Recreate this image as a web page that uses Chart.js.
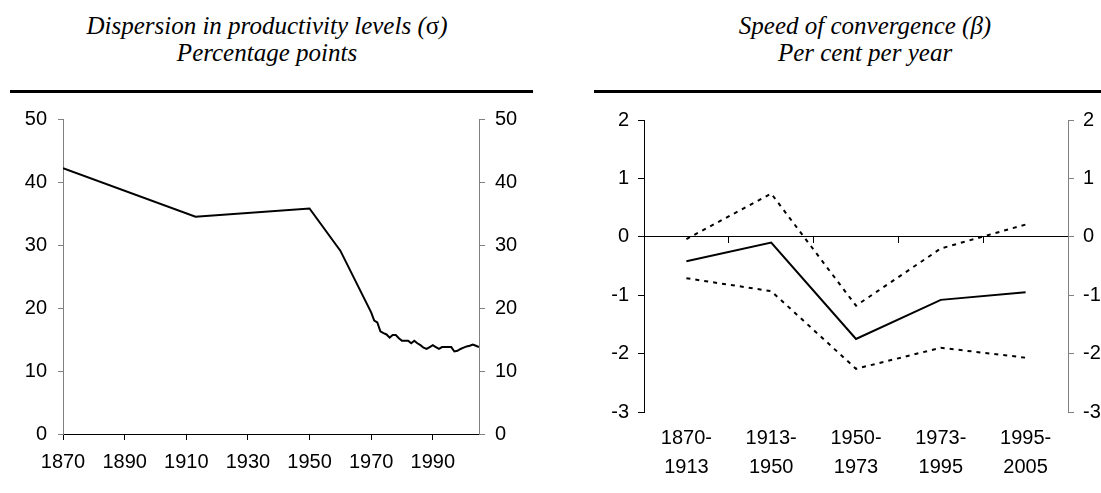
<!DOCTYPE html>
<html>
<head>
<meta charset="utf-8">
<script src="https://cdn.jsdelivr.net/npm/chart.js@4.4.1/dist/chart.umd.min.js"></script>
<style>
  html, body { margin: 0; padding: 0; width: 1101px; height: 493px; overflow: hidden; background: #fff; }
  .title {
    position: absolute; top: 12px; width: 400px;
    font-family: 'Liberation Serif', 'Times New Roman', serif;
    font-style: italic; font-size: 25px; line-height: 27px;
    text-align: center; color: #000; white-space: nowrap;
  }
  .rule { position: absolute; top: 90px; height: 3px; background: #000; }
  .box { position: absolute; top: 0; height: 493px; }
</style>
</head>
<body>
<div class="title" style="left:67px">Dispersion in productivity levels (<span style="font-style:normal">σ</span>)<br>Percentage points</div>
<div class="rule" style="left:10px;width:523px"></div>
<div class="title" style="left:665px">Speed of convergence (β)<br>Per cent per year</div>
<div class="rule" style="left:594px;width:507px"></div>

<div class="box" style="left:0;width:550px"><canvas id="sigmaChart"></canvas></div>
<div class="box" style="left:550px;width:570px"><canvas id="betaChart"></canvas></div>

<script>
// sigma: dispersion in productivity levels, percentage points
const sigmaYears = [1870, 1913, 1950, 1960,
  1970, 1971, 1972, 1973, 1974, 1975, 1976, 1977, 1978, 1979,
  1980, 1981, 1982, 1983, 1984, 1985, 1986, 1987, 1988, 1989,
  1990, 1991, 1992, 1993, 1994, 1995, 1996, 1997, 1998, 1999,
  2000, 2001, 2002, 2003, 2004, 2005];
const sigmaValues = [42.2, 34.5, 35.8, 29.1,
  19.3, 18.0, 17.7, 16.3, 16.0, 15.8, 15.3, 15.7, 15.7, 15.2,
  14.8, 14.8, 14.8, 14.4, 14.8, 14.4, 14.1, 13.7, 13.5, 13.8,
  14.1, 13.8, 13.5, 13.8, 13.8, 13.8, 13.8, 13.1, 13.2, 13.5,
  13.7, 13.9, 14.0, 14.2, 14.0, 13.8];
const yearTicks = [1870, 1890, 1910, 1930, 1950, 1970, 1990];

// beta: speed of convergence, per cent per year
const periods = [['1870-', '1913'], ['1913-', '1950'], ['1950-', '1973'], ['1973-', '1995'], ['1995-', '2005']];
const betaCentral = [-0.42, -0.10, -1.75, -1.08, -0.95];
const betaUpper = [-0.04, 0.74, -1.18, -0.20, 0.21];
const betaLower = [-0.71, -0.93, -2.26, -1.90, -2.07];

Chart.defaults.font.family = "'Liberation Sans', Arial, sans-serif";
Chart.defaults.font.size = 20;
Chart.defaults.color = '#000';

const ctxSigma = document.getElementById('sigmaChart').getContext('2d');
new Chart(ctxSigma, {
  type: 'line',
  data: {
    datasets: [{
      data: sigmaYears.map((yr, i) => ({ x: yr, y: sigmaValues[i] })),
      borderColor: '#000',
      borderWidth: 2,
      pointRadius: 0,
      tension: 0,
      fill: false
    }]
  },
  options: {
    responsive: true,
    maintainAspectRatio: false,
    animation: false,
    layout: { padding: { top: 119, right: 26, left: 0, bottom: 0 } },
    plugins: { legend: { display: false }, tooltip: { enabled: false } },
    scales: {
      x: {
        type: 'linear',
        min: 1870,
        max: 2005,
        afterBuildTicks: (s) => { s.ticks = yearTicks.map(v => ({ value: v })); },
        afterFit: (s) => { s.height = 59; },
        grid: { drawOnChartArea: false, tickLength: 6, tickColor: '#000' },
        border: { color: '#000' },
        ticks: { padding: 10, callback: (v) => String(v) }
      },
      y: {
        min: 0,
        max: 50,
        afterFit: (s) => { s.width = 63; },
        grid: { drawOnChartArea: false, tickLength: 5, tickColor: '#808080' },
        border: { color: '#808080' },
        ticks: { stepSize: 10, padding: 11 }
      },
      y2: {
        position: 'right',
        min: 0,
        max: 50,
        afterFit: (s) => { s.width = 45; },
        grid: { drawOnChartArea: false, tickLength: 6, tickColor: '#808080' },
        border: { color: '#808080' },
        ticks: { stepSize: 10, padding: 10 }
      }
    }
  }
});

const ctxBeta = document.getElementById('betaChart').getContext('2d');
new Chart(ctxBeta, {
  type: 'line',
  data: {
    labels: periods,
    datasets: [{
      data: betaCentral,
      borderColor: '#000',
      borderWidth: 2,
      pointRadius: 0,
      tension: 0,
      fill: false
    }, {
      data: betaUpper,
      borderColor: '#000',
      borderWidth: 2,
      borderDash: [4, 5],
      pointRadius: 0,
      tension: 0,
      fill: false
    }, {
      data: betaLower,
      borderColor: '#000',
      borderWidth: 2,
      borderDash: [4, 5],
      pointRadius: 0,
      tension: 0,
      fill: false
    }]
  },
  options: {
    responsive: true,
    maintainAspectRatio: false,
    animation: false,
    layout: { padding: { top: 120, right: 0, left: 0, bottom: 0 } },
    plugins: { legend: { display: false }, tooltip: { enabled: false } },
    scales: {
      x: {
        type: 'category',
        offset: true,
        afterFit: (s) => { s.height = 81; },
        grid: { display: false, drawTicks: false },
        border: { display: false },
        ticks: { padding: 12, maxRotation: 0, autoSkip: false, font: { lineHeight: 1.45 } }
      },
      x0: {
        type: 'category',
        labels: periods,
        position: { y: 0 },
        offset: true,
        grid: { offset: true, drawOnChartArea: false, tickLength: 6, tickColor: '#000' },
        border: { color: '#000' },
        ticks: { display: false }
      },
      y: {
        min: -3,
        max: 2,
        afterFit: (s) => { s.width = 94; },
        grid: { drawOnChartArea: false, tickLength: 6, tickColor: '#000' },
        border: { color: '#000' },
        ticks: { stepSize: 1, padding: 9 }
      },
      y2: {
        position: 'right',
        min: -3,
        max: 2,
        afterFit: (s) => { s.width = 52; },
        grid: { drawOnChartArea: false, tickLength: 6, tickColor: '#808080' },
        border: { color: '#808080' },
        ticks: { stepSize: 1, padding: 9 }
      }
    }
  }
});
</script>
</body>
</html>
